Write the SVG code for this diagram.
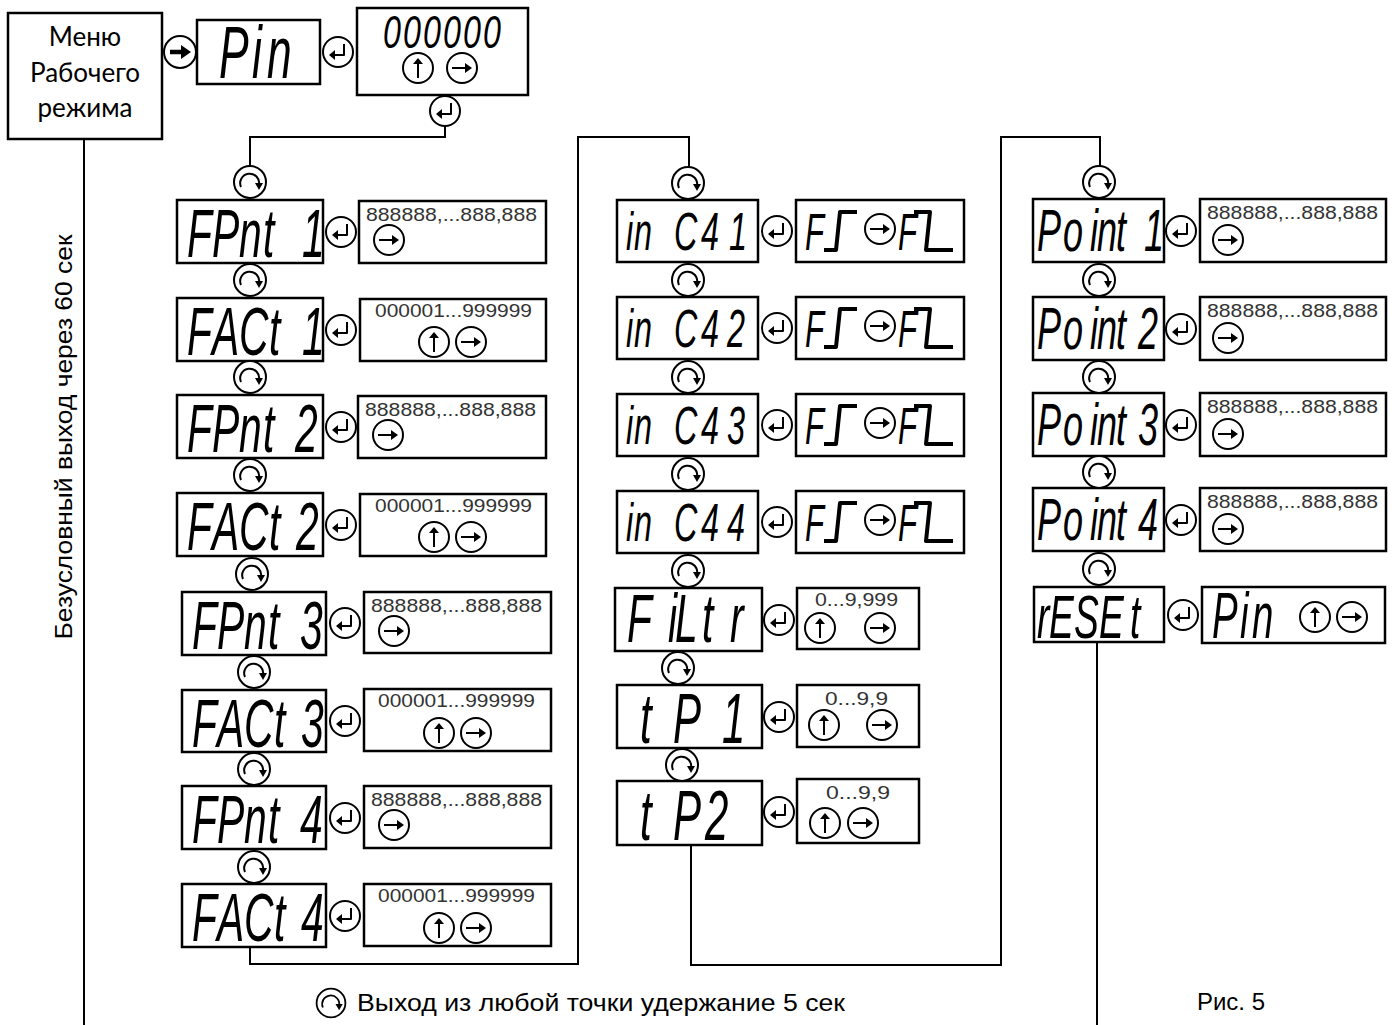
<svg xmlns="http://www.w3.org/2000/svg" width="1397" height="1025" viewBox="0 0 1397 1025">
<style>
.box{fill:#fff;stroke:#000;stroke-width:2.5}
.ln{fill:none;stroke:#000;stroke-width:2}
.cc{fill:#fff;stroke:#000;stroke-width:2}
.ar{fill:none;stroke:#000;stroke-width:2;stroke-linejoin:round}
.seg{font-family:"Liberation Sans",Arial,sans-serif;font-style:italic;fill:#000}
.val{font-family:"Liberation Sans",Arial,sans-serif;font-size:19px;fill:#333}
.lbl{font-family:"Liberation Sans",Arial,sans-serif;font-size:24px;fill:#000}
.menu{font-family:Lato,"Liberation Sans",sans-serif;font-size:26px;fill:#000;text-anchor:middle}
.edge{fill:none;stroke:#000;stroke-width:4;stroke-linejoin:round}
</style>
<defs>
<g id="ret"><circle r="15" class="cc"/><path class="ar" d="M6,-8V3H-4"/><path d="M-9,3L-3,-2V8Z"/></g>
<g id="cw"><circle r="16" class="cc"/><path class="ar" d="M-9,5A9.5,9.5 0 1 1 9,3"/><path d="M5,1L9,8L13,1Z"/></g>
<g id="up"><circle r="15" class="cc"/><path class="ar" d="M0,10V-6"/><path d="M-5,-4L0,-10L5,-4Z"/></g>
<g id="rt"><circle r="15" class="cc"/><path class="ar" d="M-10,0H5"/><path d="M3,-5L10,0L3,5Z"/></g>
</defs>
<rect width="1397" height="1025" fill="#fff"/>

<!-- top row -->
<g id="menu">
<rect class="box" x="8" y="13" width="154" height="126"/>
<text class="menu" x="85" y="46">Меню</text>
<text class="menu" x="85" y="82">Рабочего</text>
<text class="menu" x="85" y="117">режима</text>
</g>
<g id="pin">
<rect class="box" x="197" y="20" width="123" height="64"/>
<text class="seg" font-size="74" transform="translate(219,78) scale(0.6,1)" x="0 55 80" y="0">Pin</text>
</g>
<g id="pin-entry">
<rect class="box" x="357" y="8" width="171" height="87"/>
<text class="seg" font-size="46" transform="translate(383,48) scale(0.7,1)" x="0 28.6 57.1 85.7 114.3 142.9" y="0">000000</text>
<use href="#up" x="418" y="68"/>
<use href="#rt" x="462" y="68"/>
</g>

<!-- column 1 -->
<g id="fpnt1">
<rect class="box" x="177" y="200" width="146" height="63"/>
<text class="seg" font-size="68" transform="translate(187,257) scale(0.6,1)" x="0 41.7 86.7 126.7 191.7" y="0">FPnt1</text>
</g>
<g id="fpnt1-val">
<rect class="box" x="359" y="201" width="187" height="62"/>
<text class="val" x="366" y="221" textLength="171" lengthAdjust="spacingAndGlyphs">888888,...888,888</text>
<use href="#rt" x="389" y="240"/>
</g>
<g id="fact1">
<rect class="box" x="177" y="298" width="146" height="63"/>
<text class="seg" font-size="68" transform="translate(187,355) scale(0.6,1)" x="0 41.7 86.7 136.7 191.7" y="0">FACt1</text>
</g>
<g id="fact1-val">
<rect class="box" x="360" y="299" width="186" height="62"/>
<text class="val" x="375" y="317" textLength="157" lengthAdjust="spacingAndGlyphs">000001...999999</text>
<use href="#up" x="434" y="342"/>
<use href="#rt" x="471" y="342"/>
</g>
<g id="fpnt2">
<rect class="box" x="177" y="395" width="146" height="63"/>
<text class="seg" font-size="68" transform="translate(187,452) scale(0.6,1)" x="0 41.7 86.7 126.7 180" y="0">FPnt2</text>
</g>
<g id="fpnt2-val">
<rect class="box" x="358" y="396" width="188" height="62"/>
<text class="val" x="365" y="416" textLength="171" lengthAdjust="spacingAndGlyphs">888888,...888,888</text>
<use href="#rt" x="388" y="435"/>
</g>
<g id="fact2">
<rect class="box" x="177" y="493" width="146" height="63"/>
<text class="seg" font-size="68" transform="translate(187,550) scale(0.6,1)" x="0 41.7 86.7 136.7 181.7" y="0">FACt2</text>
</g>
<g id="fact2-val">
<rect class="box" x="360" y="494" width="186" height="62"/>
<text class="val" x="375" y="512" textLength="157" lengthAdjust="spacingAndGlyphs">000001...999999</text>
<use href="#up" x="434" y="537"/>
<use href="#rt" x="471" y="537"/>
</g>
<g id="fpnt3">
<rect class="box" x="182" y="592" width="144" height="63"/>
<text class="seg" font-size="68" transform="translate(192,649) scale(0.6,1)" x="0 41.7 86.7 126.7 180" y="0">FPnt3</text>
</g>
<g id="fpnt3-val">
<rect class="box" x="364" y="592" width="187" height="61"/>
<text class="val" x="371" y="612" textLength="171" lengthAdjust="spacingAndGlyphs">888888,...888,888</text>
<use href="#rt" x="394" y="631"/>
</g>
<g id="fact3">
<rect class="box" x="182" y="690" width="144" height="62"/>
<text class="seg" font-size="68" transform="translate(192,747) scale(0.6,1)" x="0 41.7 86.7 136.7 181.7" y="0">FACt3</text>
</g>
<g id="fact3-val">
<rect class="box" x="364" y="689" width="187" height="62"/>
<text class="val" x="378" y="707" textLength="157" lengthAdjust="spacingAndGlyphs">000001...999999</text>
<use href="#up" x="439" y="733"/>
<use href="#rt" x="476" y="733"/>
</g>
<g id="fpnt4">
<rect class="box" x="182" y="786" width="144" height="63"/>
<text class="seg" font-size="68" transform="translate(192,843) scale(0.6,1)" x="0 41.7 86.7 126.7 180" y="0">FPnt4</text>
</g>
<g id="fpnt4-val">
<rect class="box" x="364" y="786" width="187" height="62"/>
<text class="val" x="371" y="806" textLength="171" lengthAdjust="spacingAndGlyphs">888888,...888,888</text>
<use href="#rt" x="394" y="825"/>
</g>
<g id="fact4">
<rect class="box" x="182" y="884" width="144" height="63"/>
<text class="seg" font-size="68" transform="translate(192,941) scale(0.6,1)" x="0 41.7 86.7 136.7 181.7" y="0">FACt4</text>
</g>
<g id="fact4-val">
<rect class="box" x="364" y="884" width="187" height="62"/>
<text class="val" x="378" y="902" textLength="157" lengthAdjust="spacingAndGlyphs">000001...999999</text>
<use href="#up" x="439" y="928"/>
<use href="#rt" x="476" y="928"/>
</g>

<!-- column 2 -->
<g id="inc41">
<rect class="box" x="617" y="200" width="141" height="62"/>
<text class="seg" font-size="54" transform="translate(626,250) scale(0.6,1)" x="0 13.3 80 125 171.7" y="0">inC41</text>
</g>
<g id="inc41-val">
<rect class="box" x="796" y="200" width="168" height="62"/>
<text class="seg" font-size="52" transform="translate(805,250) scale(0.6,1)">F</text>
<path class="edge" d="M824,250H836L840,212H857"/>
<use href="#rt" x="880" y="229"/>
<text class="seg" font-size="52" transform="translate(898,250) scale(0.6,1)">F</text>
<path class="edge" d="M914,212H930L926,250H953"/>
</g>
<g id="inc42">
<rect class="box" x="617" y="297" width="141" height="62"/>
<text class="seg" font-size="54" transform="translate(626,347) scale(0.6,1)" x="0 13.3 80 125 168.3" y="0">inC42</text>
</g>
<g id="inc42-val">
<rect class="box" x="796" y="297" width="168" height="62"/>
<text class="seg" font-size="52" transform="translate(805,347) scale(0.6,1)">F</text>
<path class="edge" d="M824,347H836L840,309H857"/>
<use href="#rt" x="880" y="326"/>
<text class="seg" font-size="52" transform="translate(898,347) scale(0.6,1)">F</text>
<path class="edge" d="M914,309H930L926,347H953"/>
</g>
<g id="inc43">
<rect class="box" x="617" y="394" width="141" height="62"/>
<text class="seg" font-size="54" transform="translate(626,444) scale(0.6,1)" x="0 13.3 80 125 168.3" y="0">inC43</text>
</g>
<g id="inc43-val">
<rect class="box" x="796" y="394" width="168" height="62"/>
<text class="seg" font-size="52" transform="translate(805,444) scale(0.6,1)">F</text>
<path class="edge" d="M824,444H836L840,406H857"/>
<use href="#rt" x="880" y="423"/>
<text class="seg" font-size="52" transform="translate(898,444) scale(0.6,1)">F</text>
<path class="edge" d="M914,406H930L926,444H953"/>
</g>
<g id="inc44">
<rect class="box" x="617" y="491" width="141" height="62"/>
<text class="seg" font-size="54" transform="translate(626,541) scale(0.6,1)" x="0 13.3 80 125 168.3" y="0">inC44</text>
</g>
<g id="inc44-val">
<rect class="box" x="796" y="491" width="168" height="62"/>
<text class="seg" font-size="52" transform="translate(805,541) scale(0.6,1)">F</text>
<path class="edge" d="M824,541H836L840,503H857"/>
<use href="#rt" x="880" y="520"/>
<text class="seg" font-size="52" transform="translate(898,541) scale(0.6,1)">F</text>
<path class="edge" d="M914,503H930L926,541H953"/>
</g>
<g id="filtr">
<rect class="box" x="615" y="588" width="147" height="63"/>
<text class="seg" font-size="68" transform="translate(627,642) scale(0.6,1)" x="0 68.3 80 125 171.7" y="0">FiLtr</text>
</g>
<g id="filtr-val">
<rect class="box" x="797" y="588" width="122" height="61"/>
<text class="val" x="815" y="606" textLength="83" lengthAdjust="spacingAndGlyphs">0...9,999</text>
<use href="#up" x="820" y="628"/>
<use href="#rt" x="880" y="628"/>
</g>
<g id="tp1">
<rect class="box" x="617" y="685" width="145" height="63"/>
<text class="seg" font-size="70" transform="translate(640,743) scale(0.6,1)" x="0 55 136.7" y="0">tP1</text>
</g>
<g id="tp1-val">
<rect class="box" x="797" y="685" width="122" height="62"/>
<text class="val" x="825" y="705" textLength="63" lengthAdjust="spacingAndGlyphs">0...9,9</text>
<use href="#up" x="824" y="725"/>
<use href="#rt" x="882" y="725"/>
</g>
<g id="tp2">
<rect class="box" x="617" y="781" width="145" height="64"/>
<text class="seg" font-size="70" transform="translate(640,840) scale(0.6,1)" x="0 55 108.3" y="0">tP2</text>
</g>
<g id="tp2-val">
<rect class="box" x="797" y="779" width="122" height="64"/>
<text class="val" x="826" y="799" textLength="64" lengthAdjust="spacingAndGlyphs">0...9,9</text>
<use href="#up" x="825" y="823"/>
<use href="#rt" x="863" y="823"/>
</g>

<!-- column 3 -->
<g id="point1">
<rect class="box" x="1033" y="199" width="131" height="63"/>
<text class="seg" font-size="60" transform="translate(1037,251) scale(0.6,1)" x="0 43.3 88.3 100 131.7 178.3" y="0">Point1</text>
</g>
<g id="point1-val">
<rect class="box" x="1200" y="199" width="186" height="63"/>
<text class="val" x="1207" y="219" textLength="171" lengthAdjust="spacingAndGlyphs">888888,...888,888</text>
<use href="#rt" x="1228" y="240"/>
</g>
<g id="point2">
<rect class="box" x="1033" y="297" width="131" height="63"/>
<text class="seg" font-size="60" transform="translate(1037,349) scale(0.6,1)" x="0 43.3 88.3 100 131.7 168.3" y="0">Point2</text>
</g>
<g id="point2-val">
<rect class="box" x="1200" y="297" width="186" height="63"/>
<text class="val" x="1207" y="317" textLength="171" lengthAdjust="spacingAndGlyphs">888888,...888,888</text>
<use href="#rt" x="1228" y="338"/>
</g>
<g id="point3">
<rect class="box" x="1033" y="393" width="131" height="63"/>
<text class="seg" font-size="60" transform="translate(1037,445) scale(0.6,1)" x="0 43.3 88.3 100 131.7 168.3" y="0">Point3</text>
</g>
<g id="point3-val">
<rect class="box" x="1200" y="393" width="186" height="63"/>
<text class="val" x="1207" y="413" textLength="171" lengthAdjust="spacingAndGlyphs">888888,...888,888</text>
<use href="#rt" x="1228" y="434"/>
</g>
<g id="point4">
<rect class="box" x="1033" y="488" width="131" height="63"/>
<text class="seg" font-size="60" transform="translate(1037,540) scale(0.6,1)" x="0 43.3 88.3 100 131.7 168.3" y="0">Point4</text>
</g>
<g id="point4-val">
<rect class="box" x="1200" y="488" width="186" height="63"/>
<text class="val" x="1207" y="508" textLength="171" lengthAdjust="spacingAndGlyphs">888888,...888,888</text>
<use href="#rt" x="1228" y="529"/>
</g>
<g id="reset">
<rect class="box" x="1034" y="587" width="130" height="55"/>
<text class="seg" font-size="62" transform="translate(1037,638) scale(0.6,1)" x="0 20 61.7 103.3 155" y="0">rESEt</text>
</g>
<g id="reset-val">
<rect class="box" x="1202" y="587" width="183" height="56"/>
<text class="seg" font-size="64" transform="translate(1212,638) scale(0.6,1)" x="0 46.7 66.7" y="0">Pin</text>
<use href="#up" x="1315" y="617"/>
<use href="#rt" x="1352" y="617"/>
</g>

<!-- connectors -->
<g id="connectors">
<path class="ln" d="M84,139V1025"/>
<path class="ln" d="M445,126V137H250V166"/>
<path class="ln" d="M250,947V964H578V137H689V167"/>
<path class="ln" d="M691,845V965H1001V137H1100V166"/>
<path class="ln" d="M1097,642V1025"/>
<g transform="translate(180,52)"><circle r="16" class="cc" stroke-width="1.5"/><path d="M-10,0H3" stroke="#000" stroke-width="4.5"/><path d="M1,-7L11,0L1,7Z"/></g>
<use href="#ret" x="338" y="52"/>
<use href="#ret" x="445" y="111"/>
<use href="#cw" x="250" y="182"/>
<use href="#cw" x="250" y="280"/>
<use href="#cw" x="250" y="377"/>
<use href="#cw" x="250" y="475"/>
<use href="#cw" x="252" y="574"/>
<use href="#cw" x="254" y="672"/>
<use href="#cw" x="254" y="769"/>
<use href="#cw" x="254" y="867"/>
<use href="#ret" x="341" y="232"/>
<use href="#ret" x="341" y="330"/>
<use href="#ret" x="341" y="427"/>
<use href="#ret" x="341" y="525"/>
<use href="#ret" x="345" y="623"/>
<use href="#ret" x="345" y="721"/>
<use href="#ret" x="345" y="818"/>
<use href="#ret" x="345" y="916"/>
<use href="#cw" x="688" y="183"/>
<use href="#cw" x="688" y="280"/>
<use href="#cw" x="688" y="377"/>
<use href="#cw" x="688" y="474"/>
<use href="#cw" x="688" y="571"/>
<use href="#cw" x="678" y="668"/>
<use href="#cw" x="682" y="765"/>
<use href="#ret" x="777" y="231"/>
<use href="#ret" x="777" y="328"/>
<use href="#ret" x="777" y="425"/>
<use href="#ret" x="777" y="522"/>
<use href="#ret" x="779" y="620"/>
<use href="#ret" x="779" y="717"/>
<use href="#ret" x="779" y="812"/>
<use href="#cw" x="1099" y="182"/>
<use href="#cw" x="1099" y="280"/>
<use href="#cw" x="1099" y="377"/>
<use href="#cw" x="1099" y="472"/>
<use href="#cw" x="1099" y="569"/>
<use href="#ret" x="1181" y="231"/>
<use href="#ret" x="1181" y="329"/>
<use href="#ret" x="1181" y="425"/>
<use href="#ret" x="1181" y="520"/>
<use href="#ret" x="1183" y="615"/>
</g>

<!-- labels -->
<g id="labels">
<text class="lbl" transform="translate(72,437) rotate(-90)" text-anchor="middle" textLength="405" lengthAdjust="spacingAndGlyphs">Безусловный выход через 60 сек</text>
<use href="#cw" transform="translate(331,1003) scale(0.9)"/>
<text class="lbl" x="357" y="1011" textLength="488" lengthAdjust="spacingAndGlyphs">Выход из любой точки удержание 5 сек</text>
<text class="lbl" x="1197" y="1010" textLength="68" lengthAdjust="spacingAndGlyphs">Рис. 5</text>
</g>
</svg>
